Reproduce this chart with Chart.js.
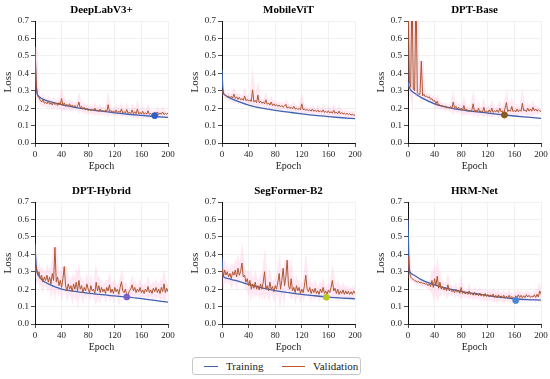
<!DOCTYPE html>
<html><head><meta charset="utf-8">
<script src="https://cdn.jsdelivr.net/npm/chart.js@4/dist/chart.umd.min.js"></script>
<style>
body{margin:0;width:550px;height:379px;background:#fff;position:relative;overflow:hidden;font-family:"Liberation Serif",serif}
canvas{position:absolute}
#legend{position:absolute;left:192px;top:357px;width:169px;height:18px;border:1px solid #c8c8c8;border-radius:3px;box-sizing:border-box;font-size:11px;color:#222}
#legend .sw{position:absolute;top:8px;height:0;border-top:1.3px solid}
#legend .tx{position:absolute;top:2px;line-height:13px}
</style></head>
<body>
<div id="legend">
  <span class="sw" style="left:11px;width:14px;border-color:#3d66b0"></span><span class="tx" style="left:33px">Training</span>
  <span class="sw" style="left:89px;width:23px;border-color:#c0562f"></span><span class="tx" style="left:120px">Validation</span>
</div>
<script>
const TITLES = ["DeepLabV3+","MobileViT","DPT-Base","DPT-Hybrid","SegFormer-B2","HRM-Net"];
const X_TICKS = [0,40,80,120,160,200];
const TRAIN_EPOCHS = [0,1,2,3,5,10,20,40,60,80,100,120,140,160,180,200];
const VAL_STEP = 2;

const deeplabTrain = [0.55,0.40,0.32,0.285,0.27,0.255,0.24,0.22,0.205,0.193,0.183,0.173,0.165,0.158,0.152,0.147];
const mobilevitTrain = [0.42,0.33,0.29,0.28,0.274,0.262,0.245,0.218,0.2,0.187,0.177,0.167,0.158,0.151,0.145,0.14];
const dptBaseTrain = [0.35,0.33,0.32,0.31,0.3,0.285,0.26,0.225,0.205,0.19,0.18,0.172,0.163,0.155,0.148,0.141];
const dptHybridTrain = [0.46,0.38,0.32,0.3,0.28,0.255,0.23,0.2,0.187,0.177,0.168,0.161,0.154,0.145,0.135,0.125];
const segformerTrain = [0.38,0.3,0.275,0.27,0.265,0.26,0.25,0.227,0.207,0.192,0.18,0.17,0.162,0.154,0.149,0.145];
const hrmTrain = [0.6,0.42,0.32,0.3,0.29,0.278,0.255,0.225,0.203,0.187,0.175,0.163,0.153,0.145,0.14,0.137];

const deeplabVal = [
0.55,0.33,0.27,0.26,0.245,0.235,0.25,0.228,0.235,0.225,
0.24,0.222,0.23,0.218,0.235,0.22,0.228,0.215,0.232,0.22,
0.255,0.215,0.23,0.21,0.222,0.212,0.225,0.208,0.218,0.205,
0.215,0.205,0.21,0.235,0.2,0.21,0.195,0.205,0.19,0.2,
0.185,0.195,0.185,0.192,0.183,0.2,0.182,0.19,0.18,0.195,
0.182,0.188,0.178,0.19,0.18,0.22,0.18,0.188,0.176,0.185,
0.175,0.19,0.174,0.183,0.175,0.195,0.172,0.18,0.172,0.192,
0.17,0.178,0.17,0.19,0.168,0.18,0.168,0.195,0.167,0.176,
0.166,0.182,0.165,0.174,0.165,0.185,0.164,0.17,0.162,0.16,
0.172,0.165,0.178,0.163,0.172,0.165,0.178,0.163,0.17,0.165,
0.172];
const mobilevitVal = [
0.3,0.285,0.275,0.272,0.265,0.27,0.26,0.268,0.258,0.28,
0.255,0.265,0.25,0.262,0.248,0.255,0.245,0.27,0.243,0.25,
0.24,0.248,0.238,0.305,0.235,0.245,0.232,0.275,0.23,0.24,
0.228,0.235,0.225,0.248,0.222,0.23,0.218,0.235,0.215,0.225,
0.212,0.22,0.21,0.218,0.207,0.215,0.205,0.212,0.222,0.2,
0.208,0.198,0.205,0.196,0.21,0.194,0.2,0.192,0.198,0.19,
0.225,0.19,0.196,0.186,0.194,0.185,0.19,0.183,0.195,0.182,
0.188,0.18,0.19,0.178,0.185,0.177,0.19,0.176,0.182,0.174,
0.185,0.172,0.18,0.171,0.188,0.17,0.178,0.168,0.183,0.167,
0.175,0.166,0.172,0.164,0.17,0.163,0.168,0.16,0.166,0.158,
0.162];
const dptBaseVal = [
0.9,0.36,0.32,0.9,0.31,0.3,0.9,0.29,0.28,0.28,
0.47,0.27,0.28,0.265,0.27,0.26,0.265,0.25,0.255,0.24,
0.245,0.225,0.24,0.215,0.22,0.21,0.215,0.205,0.212,0.2,
0.205,0.2,0.21,0.198,0.235,0.2,0.21,0.195,0.205,0.19,
0.2,0.188,0.215,0.185,0.195,0.182,0.19,0.18,0.188,0.225,
0.18,0.19,0.178,0.2,0.178,0.185,0.176,0.205,0.176,0.185,
0.175,0.19,0.176,0.2,0.175,0.185,0.178,0.19,0.175,0.2,
0.178,0.185,0.168,0.2,0.232,0.18,0.19,0.182,0.21,0.18,
0.188,0.178,0.195,0.18,0.19,0.182,0.228,0.185,0.19,0.18,
0.2,0.183,0.195,0.182,0.205,0.185,0.195,0.183,0.19,0.185,
0.18];
const dptHybridVal = [
0.3,0.33,0.28,0.3,0.26,0.28,0.24,0.27,0.25,0.28,
0.24,0.27,0.23,0.29,0.25,0.44,0.24,0.27,0.22,0.25,
0.21,0.26,0.33,0.22,0.19,0.23,0.2,0.22,0.185,0.23,
0.2,0.24,0.19,0.25,0.2,0.22,0.18,0.21,0.19,0.23,
0.2,0.18,0.22,0.19,0.2,0.175,0.24,0.19,0.22,0.18,
0.21,0.185,0.2,0.175,0.21,0.19,0.225,0.18,0.2,0.175,
0.21,0.185,0.2,0.17,0.21,0.243,0.19,0.18,0.2,0.165,
0.17,0.19,0.2,0.225,0.19,0.21,0.18,0.2,0.185,0.21,
0.18,0.195,0.175,0.2,0.185,0.215,0.18,0.195,0.175,0.205,
0.185,0.21,0.18,0.2,0.175,0.21,0.185,0.23,0.18,0.205,
0.185];
const segformerVal = [
0.32,0.27,0.31,0.28,0.3,0.27,0.29,0.26,0.3,0.28,
0.31,0.27,0.32,0.28,0.3,0.35,0.27,0.28,0.24,0.26,
0.22,0.25,0.2,0.23,0.205,0.24,0.2,0.22,0.195,0.23,
0.2,0.24,0.3,0.2,0.22,0.19,0.24,0.2,0.215,0.185,
0.22,0.2,0.24,0.29,0.2,0.25,0.32,0.22,0.27,0.366,
0.22,0.2,0.26,0.19,0.21,0.18,0.22,0.19,0.21,0.175,
0.2,0.18,0.22,0.28,0.2,0.185,0.21,0.175,0.2,0.18,
0.205,0.175,0.19,0.17,0.2,0.18,0.21,0.175,0.19,0.17,
0.195,0.18,0.21,0.25,0.19,0.205,0.175,0.2,0.17,0.19,
0.175,0.195,0.17,0.19,0.172,0.188,0.17,0.185,0.17,0.19,
0.175];
const hrmVal = [
0.39,0.3,0.27,0.26,0.255,0.25,0.245,0.24,0.245,0.235,
0.24,0.232,0.235,0.228,0.232,0.22,0.23,0.215,0.25,0.21,
0.26,0.22,0.275,0.205,0.24,0.2,0.215,0.195,0.21,0.19,
0.225,0.19,0.2,0.185,0.195,0.18,0.2,0.182,0.19,0.176,
0.21,0.175,0.185,0.172,0.18,0.17,0.19,0.168,0.178,0.165,
0.182,0.165,0.175,0.162,0.178,0.16,0.172,0.158,0.175,0.158,
0.17,0.155,0.168,0.155,0.172,0.152,0.165,0.15,0.168,0.152,
0.162,0.15,0.165,0.148,0.16,0.15,0.165,0.148,0.158,0.15,
0.145,0.162,0.15,0.168,0.152,0.165,0.15,0.162,0.152,0.168,
0.155,0.165,0.152,0.16,0.155,0.168,0.152,0.17,0.155,0.19,
0.17];

const BEST_EPOCH = [180, null, 145, 138, 157, 162];
const BEST_LOSS = [0.157, null, 0.161, 0.155, 0.154, 0.135];

const TRAIN_SERIES = [deeplabTrain, mobilevitTrain, dptBaseTrain, dptHybridTrain, segformerTrain, hrmTrain];
const VAL_SERIES = [deeplabVal, mobilevitVal, dptBaseVal, dptHybridVal, segformerVal, hrmVal];

// layout (style, not data)
const AREA_LEFT = [35, 222, 408, 35, 222, 408];
const AREA_TOP = [21, 21, 21, 202, 202, 202];
const AREA_W = 133, AREA_H = 122;
const MARKER_COLORS = ['#2f5fc4', null, '#8a5a1e', '#7a5fc8', '#b5c81e', '#4a86d6'];
const TRAIN_COLOR = '#3d62b0', VAL_COLOR = '#ad5530';
const FONT = '"Liberation Serif", "Times New Roman", serif';
Chart.defaults.font.family = FONT;

for (let k = 0; k < 6; k++) {
  const cv = document.createElement('canvas');
  const W = AREA_W + 70, H = AREA_H + 21 + 29;
  cv.width = W; cv.height = H;
  cv.style.left = (AREA_LEFT[k] - 35) + 'px';
  cv.style.top = (AREA_TOP[k] - 21) + 'px';
  cv.style.width = W + 'px'; cv.style.height = H + 'px';
  document.body.appendChild(cv);

  const train = TRAIN_EPOCHS.map((e, i) => ({x: e, y: TRAIN_SERIES[k][i]}));
  const val = VAL_SERIES[k].map((v, i) => ({x: i * VAL_STEP, y: v}));
  const datasets = [];
  if (BEST_EPOCH[k] !== null) {
    datasets.push({data: [{x: BEST_EPOCH[k], y: BEST_LOSS[k]}], showLine: false,
      pointRadius: 3, pointBackgroundColor: MARKER_COLORS[k], pointBorderColor: MARKER_COLORS[k], order: 0});
  }
  datasets.push({data: val, borderColor: VAL_COLOR, borderWidth: 1, pointRadius: 0, tension: 0, order: 1});
  datasets.push({data: train, borderColor: TRAIN_COLOR, borderWidth: 1.3, pointRadius: 0, cubicInterpolationMode: 'monotone', order: 2});
  datasets.push({data: val, borderColor: 'rgba(255,165,210,0.25)', borderWidth: 5, pointRadius: 0, tension: 0, order: 3});

  new Chart(cv, {
    type: 'line',
    data: {datasets},
    options: {
      responsive: false, animation: false, devicePixelRatio: 1,
      layout: {padding: {left: 0, right: 35, top: 0, bottom: 0}},
      plugins: {
        legend: {display: false}, tooltip: {enabled: false},
        title: {display: true, fullSize: false, text: TITLES[k], color: '#000',
          font: {family: FONT, size: 11, weight: 'bold'}, padding: {top: 4, bottom: 3.8}}
      },
      scales: {
        x: {type: 'linear', min: 0, max: 200,
          afterFit: s => { s.height = 29; },
          afterBuildTicks: s => { s.ticks = X_TICKS.map(v => ({value: v})); },
          ticks: {font: {family: FONT, size: 9}, color: '#222', padding: 2, maxRotation: 0},
          grid: {color: '#ededed', tickColor: '#222', tickLength: 4, lineWidth: 0.8},
          border: {color: '#111', width: 1},
          title: {display: true, text: 'Epoch', color: '#222', font: {family: FONT, size: 10}, padding: {top: 0, bottom: 0}}
        },
        y: {min: 0, max: 0.7,
          afterFit: s => { s.width = 35; },
          ticks: {stepSize: 0.1, font: {family: FONT, size: 9}, color: '#222', padding: 2,
            callback: v => Number(v).toFixed(1)},
          grid: {color: '#ededed', tickColor: '#222', tickLength: 4, lineWidth: 0.8},
          border: {color: '#111', width: 1},
          title: {display: true, text: 'Loss', color: '#222', font: {family: FONT, size: 11}, padding: {top: 1.5, bottom: 0}}
        }
      }
    }
  });
}
</script>
</body></html>
